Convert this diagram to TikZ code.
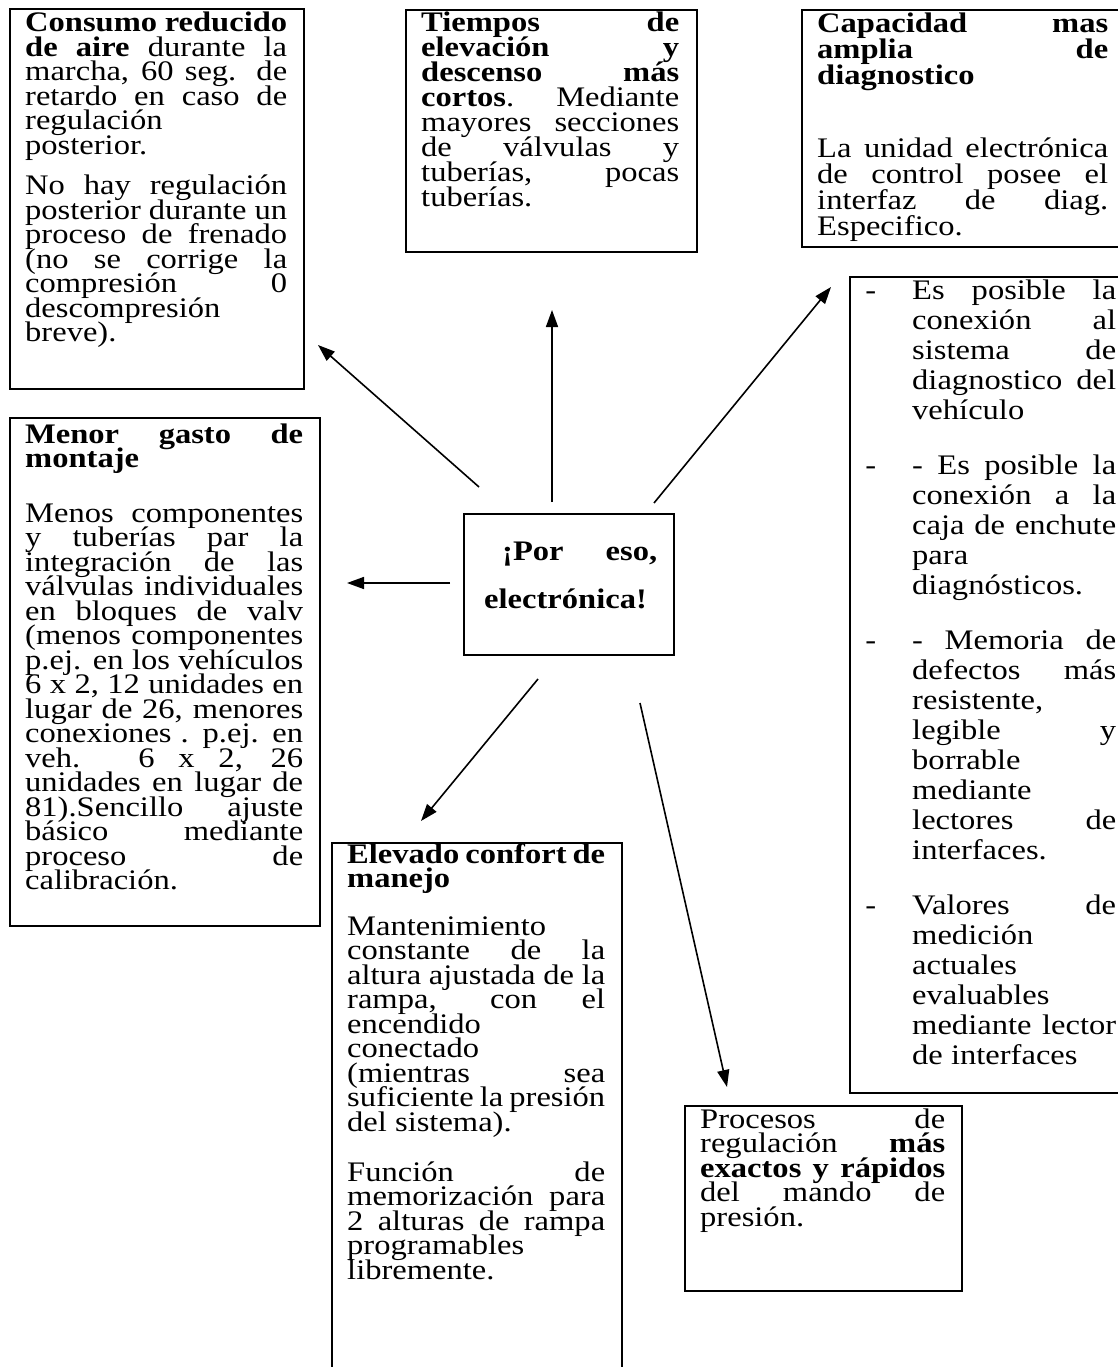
\documentclass[tikz,border=0pt]{standalone}
\usepackage{fontspec}
\setmainfont{Liberation Serif}[FakeStretch=1.15]
\usepackage{tikz}
\usetikzlibrary{positioning, arrows.meta}

\lineskiplimit=-100pt
\hbadness=10000
\hfuzz=30pt
\newcommand\jl[1]{\makebox[\linewidth][s]{#1}\par}
\newcommand\rl[1]{#1\par}
\newcommand\boxfont[1]{\fontsize{28.3}{#1}\selectfont\lineskiplimit=-100pt}

\begin{document}
\begin{tikzpicture}[x=1pt, y=-1pt,
  frame/.style={draw, line width=2.4pt, inner sep=0pt, anchor=north west},
  txt/.style={inner sep=0pt, anchor=base west},
  arr/.style={line width=1.6pt, -{Triangle[length=17pt, width=12pt]}}]
  \useasboundingbox (0,0) rectangle (1118,1367);

  % frames
  \node[frame, minimum width=294pt, minimum height=380pt] (consumo) at (9,8) {};
  \node[frame, minimum width=291pt, minimum height=242pt] (tiempos) at (405,9) {};
  \node[frame, minimum width=330pt, minimum height=237pt] (capacidad) at (801,9) {};
  \node[frame, minimum width=282pt, minimum height=816pt] (lista) at (849,276) {};
  \node[frame, minimum width=310pt, minimum height=508pt] (menor) at (9,417) {};
  \node[frame, minimum width=210pt, minimum height=141pt] (core) at (463,513) {};
  \node[frame, minimum width=290pt, minimum height=540pt] (elevado) at (331,842) {};
  \node[frame, minimum width=277pt, minimum height=185pt] (procesos) at (684,1105) {};

  % texts
  \node[txt] (consumoTxt) at (25,32) {\parbox[t]{262pt}{\boxfont{24.5}
    \jl{\textbf{Consumo reducido}}
    \jl{\textbf{de aire} durante la}
    \jl{marcha, 60 seg. de}
    \jl{retardo en caso de}
    \rl{regulación}
    \rl{posterior.}
    \vspace{16pt}
    \jl{No hay regulación}
    \jl{posterior durante un}
    \jl{proceso de frenado}
    \jl{(no se corrige la}
    \jl{compresión 0}
    \rl{descompresión}
    \rl{breve).}}};

  \node[txt] (tiemposTxt) at (421,32) {\parbox[t]{258pt}{\boxfont{25}
    \jl{\textbf{Tiempos de}}
    \jl{\textbf{elevación y}}
    \jl{\textbf{descenso más}}
    \jl{\textbf{cortos}. Mediante}
    \jl{mayores secciones}
    \jl{de válvulas y}
    \jl{tuberías, pocas}
    \rl{tuberías.}}};

  \node[txt] (capacidadTxt) at (817,33) {\parbox[t]{291pt}{\boxfont{26}
    \jl{\textbf{Capacidad mas}}
    \jl{\textbf{amplia de}}
    \rl{\textbf{diagnostico}}
    \vspace{47pt}
    \jl{La unidad electrónica}
    \jl{de control posee el}
    \jl{interfaz de diag.}
    \rl{Especifico.}}};

  \node[txt] (listaTxt) at (912,299) {\parbox[t]{204pt}{\boxfont{30}
    \jl{\llap{-\hspace{36pt}}Es posible la}
    \jl{conexión al}
    \jl{sistema de}
    \jl{diagnostico del}
    \rl{vehículo}
    \vspace{25pt}
    \jl{\llap{-\hspace{36pt}}- Es posible la}
    \jl{conexión a la}
    \jl{caja de enchute}
    \rl{para}
    \rl{diagnósticos.}
    \vspace{25pt}
    \jl{\llap{-\hspace{36pt}}- Memoria de}
    \jl{defectos más}
    \rl{resistente,}
    \jl{legible y}
    \rl{borrable}
    \rl{mediante}
    \jl{lectores de}
    \rl{interfaces.}
    \vspace{25pt}
    \jl{\llap{-\hspace{36pt}}Valores de}
    \rl{medición}
    \rl{actuales}
    \rl{evaluables}
    \jl{mediante lector}
    \rl{de interfaces}}};

  \node[txt] (menorTxt) at (25,443) {\parbox[t]{278pt}{\boxfont{24.5}
    \jl{\textbf{Menor gasto de}}
    \rl{\textbf{montaje}}
    \vspace{30pt}
    \jl{Menos componentes}
    \jl{y tuberías par la}
    \jl{integración de las}
    \jl{válvulas individuales}
    \jl{en bloques de valv}
    \jl{(menos componentes}
    \jl{p.ej. en los vehículos}
    \jl{6 x 2, 12 unidades en}
    \jl{lugar de 26, menores}
    \jl{conexiones . p.ej. en}
    \jl{veh. 6 x 2, 26}
    \jl{unidades en lugar de}
    \jl{81).Sencillo ajuste}
    \jl{básico mediante}
    \jl{proceso de}
    \rl{calibración.}}};

  \node[txt] (coreTxt) at (484,560) {\parbox[t]{173pt}{\boxfont{24.5}\bfseries
    \jl{\hspace*{18pt}¡Por eso,}
    \vspace{23.5pt}
    \rl{electrónica!}}};

  \node[txt] (elevadoTxt) at (347,863) {\parbox[t]{258pt}{\boxfont{24.5}
    \jl{\textbf{Elevado confort de}}
    \rl{\textbf{manejo}}
    \vspace{23pt}
    \rl{Mantenimiento}
    \jl{constante de la}
    \jl{altura ajustada de la}
    \jl{rampa, con el}
    \rl{encendido}
    \rl{conectado}
    \jl{(mientras sea}
    \jl{suficiente la presión}
    \rl{del sistema).}
    \vspace{25.5pt}
    \jl{Función de}
    \jl{memorización para}
    \jl{2 alturas de rampa}
    \rl{programables}
    \rl{libremente.}}};

  \node[txt] (procesosTxt) at (700,1128) {\parbox[t]{245pt}{\boxfont{24.5}
    \jl{Procesos de}
    \jl{regulación \textbf{más}}
    \jl{\textbf{exactos y rápidos}}
    \jl{del mando de}
    \rl{presión.}}};

  % arrows
  \coordinate (p1) at (479,487); \coordinate (q1) at (318,345);
  \coordinate (p2) at (552,502); \coordinate (q2) at (552,310);
  \coordinate (p3) at (654,503); \coordinate (q3) at (831,287);
  \coordinate (p4) at (450,583); \coordinate (q4) at (347,583);
  \coordinate (p5) at (538,679); \coordinate (q5) at (421,821);
  \coordinate (p6) at (640,703); \coordinate (q6) at (727,1087);
  \draw[arr] (p1) -- (q1);
  \draw[arr] (p2) -- (q2);
  \draw[arr] (p3) -- (q3);
  \draw[arr] (p4) -- (q4);
  \draw[arr] (p5) -- (q5);
  \draw[arr] (p6) -- (q6);
\end{tikzpicture}
\end{document}
